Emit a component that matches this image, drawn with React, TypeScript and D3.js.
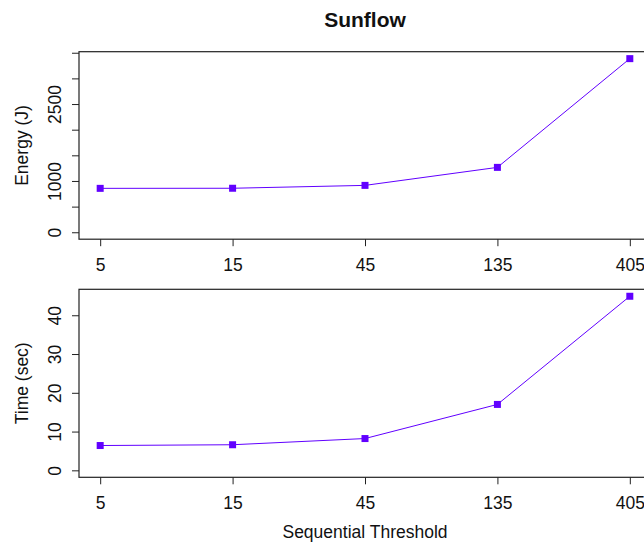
import React, { useRef, useEffect } from "react";
import * as d3 from "d3";

const width = 644;
const height = 543;
const font = "'Liberation Sans', Arial, Helvetica, sans-serif";
const lineColor = "#6100ff";

// data
const thresholds = ["5", "15", "45", "135", "405"];
const energy = [856, 858, 914, 1265, 3385];
const time = [6.4, 6.6, 8.2, 17.0, 44.9];
const energyTicks = [0, 500, 1000, 1500, 2000, 2500, 3000, 3500];
const energyLabels = [0, 1000, 2500]; // R dropped the overlapping ones
const timeTicks = [0, 10, 20, 30, 40];

const plot = { left: 79, right: 651 };
const panels = [
  { key: "energy", top: 51.7, bottom: 239.2, values: energy, ticks: energyTicks, labels: energyLabels, title: "Energy (J)" },
  { key: "time", top: 289.3, bottom: 477.3, values: time, ticks: timeTicks, labels: timeTicks, title: "Time (sec)" },
];

const idx = thresholds.map((_, i) => i + 1);
// R style 4% padding around the index range
const x = d3.scaleLinear().domain([0.84, 5.16]).range([plot.left, plot.right]);

const Panel = ({ p }) => {
  const g = useRef(null);
  useEffect(() => {
    if (!g.current) return;
    const ymax = d3.max(p.values);
    const pad = ymax * 0.04;
    const y = d3.scaleLinear().domain([-pad, ymax + pad]).range([p.bottom, p.top]);
    const root = d3.select(g.current);
    root.selectAll("*").remove();

    // y axis
    const yAxis = d3
      .axisLeft(y)
      .tickValues(p.ticks)
      .tickSize(7)
      .tickFormat((d) => (p.labels.includes(d) ? String(d) : ""));
    const ya = root.append("g").attr("transform", `translate(${plot.left},0)`).call(yAxis);
    ya.select(".domain").remove();
    ya.selectAll("line").attr("stroke", "#222");
    ya.selectAll("text")
      .attr("transform", "rotate(-90)")
      .attr("x", 0)
      .attr("y", -18)
      .attr("dy", 0)
      .attr("text-anchor", "middle")
      .attr("fill", "#111")
      .style("font-size", "17.5px")
      .style("font-family", font);

    // x axis
    const xAxis = d3
      .axisBottom(x)
      .tickValues(idx)
      .tickSize(7)
      .tickFormat((d) => thresholds[d - 1]);
    const xa = root.append("g").attr("transform", `translate(0,${p.bottom})`).call(xAxis);
    xa.select(".domain").remove();
    xa.selectAll("line").attr("stroke", "#222");
    xa.selectAll("text")
      .attr("y", 32)
      .attr("dy", 0)
      .attr("fill", "#111")
      .style("font-size", "17.5px")
      .style("font-family", font);

    // box
    root
      .append("rect")
      .attr("x", plot.left)
      .attr("y", p.top)
      .attr("width", plot.right - plot.left)
      .attr("height", p.bottom - p.top)
      .attr("fill", "none")
      .attr("stroke", "#222")
      .attr("stroke-width", 1.2);

    // line + square markers
    const line = d3
      .line()
      .x((d, i) => x(i + 1))
      .y((d) => y(d));
    root
      .append("path")
      .attr("d", line(p.values))
      .attr("fill", "none")
      .attr("stroke", lineColor)
      .attr("stroke-width", 1);
    root
      .selectAll("rect.pt")
      .data(p.values)
      .enter()
      .append("rect")
      .attr("class", "pt")
      .attr("x", (d, i) => x(i + 1) - 3.5)
      .attr("y", (d) => y(d) - 3.5)
      .attr("width", 7)
      .attr("height", 7)
      .attr("fill", lineColor);

    // axis title
    root
      .append("text")
      .attr("transform", `translate(28,${(p.top + p.bottom) / 2}) rotate(-90)`)
      .attr("text-anchor", "middle")
      .attr("fill", "#111")
      .style("font-size", "17.5px")
      .style("font-family", font)
      .text(p.title);
  }, [p]);
  return <g ref={g}></g>;
};

const App = () => {
  return (
    <svg
      width={width}
      height={height}
      style={{ position: "absolute", left: 0, top: 0, background: "#fff" }}
    >
      <rect width={width} height={height} fill="#fff" />
      <text
        x={(plot.left + plot.right) / 2}
        y={26.7}
        textAnchor="middle"
        fontWeight="bold"
        fontSize={21}
        fontFamily={font}
        fill="#111"
      >
        Sunflow
      </text>
      {panels.map((p) => (
        <Panel key={p.key} p={p} />
      ))}
      <text
        x={(plot.left + plot.right) / 2}
        y={537.5}
        textAnchor="middle"
        fontSize={17.5}
        fontFamily={font}
        fill="#111"
      >
        Sequential Threshold
      </text>
    </svg>
  );
};

export default App;
